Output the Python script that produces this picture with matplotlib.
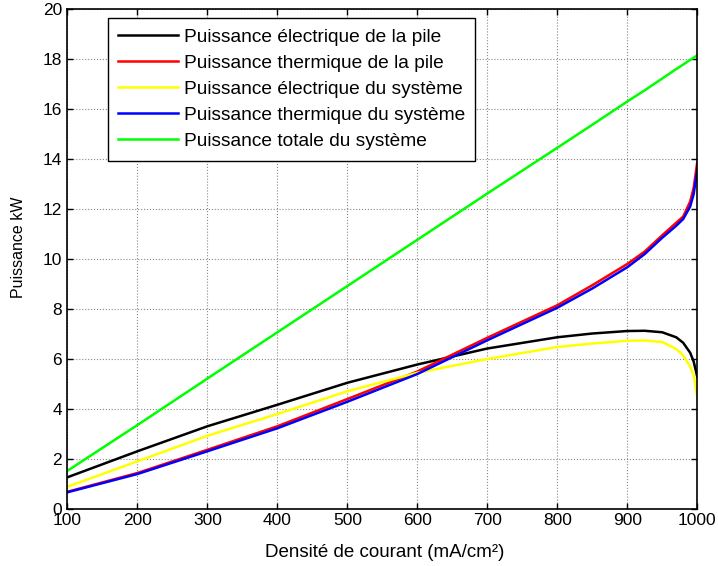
import matplotlib
matplotlib.use('Agg')
import matplotlib.pyplot as plt

plt.rcParams['font.family'] = ['Liberation Sans', 'DejaVu Sans']

# Current density (mA/cm²) at which each power curve is sampled
densite = [100, 200, 300, 400, 500, 600, 700, 800, 850, 900, 925, 950, 970, 980, 990, 995, 1000]

# Power values in kW
p_elec_pile = [1.27, 2.31, 3.31, 4.17, 5.05, 5.78, 6.42, 6.87, 7.02, 7.12, 7.13, 7.07, 6.87, 6.65, 6.25, 5.9, 5.3]
p_therm_pile = [0.69, 1.44, 2.37, 3.31, 4.4, 5.5, 6.85, 8.15, 8.95, 9.8, 10.3, 10.95, 11.45, 11.7, 12.3, 12.85, 13.85]
p_elec_sys = [0.89, 1.91, 2.93, 3.8, 4.71, 5.45, 6.0, 6.48, 6.62, 6.73, 6.74, 6.68, 6.4, 6.15, 5.7, 5.35, 4.5]
p_therm_sys = [0.67, 1.4, 2.31, 3.23, 4.29, 5.4, 6.75, 8.05, 8.82, 9.67, 10.2, 10.85, 11.33, 11.6, 12.1, 12.6, 13.55]
p_totale = [1.53, 3.36, 5.22, 7.07, 8.92, 10.77, 12.62, 14.45, 15.37, 16.3, 16.75, 17.22, 17.6, 17.78, 17.97, 18.05, 18.15]

courbes = [
    (p_elec_pile, 'black', 'Puissance électrique de la pile'),
    (p_therm_pile, 'red', 'Puissance thermique de la pile'),
    (p_elec_sys, 'yellow', 'Puissance électrique du système'),
    (p_therm_sys, 'blue', 'Puissance thermique du système'),
    (p_totale, '#00ff00', 'Puissance totale du système'),
]

fig = plt.figure(figsize=(7.18, 5.66), dpi=100)
ax = fig.add_axes([0.094, 0.1007, 0.877, 0.8833])

for valeurs, couleur, nom in courbes:
    ax.plot(densite, valeurs, color=couleur, linewidth=1.8, label=nom)

ax.set_xlim(100, 1000)
ax.set_ylim(0, 20)
ax.set_xticks(range(100, 1001, 100))
ax.set_yticks(range(0, 21, 2))
ax.tick_params(direction='in', top=True, right=True, labelsize=12.5, length=4, width=1)
ax.tick_params(axis='x', pad=3)
ax.tick_params(axis='y', pad=4)
ax.grid(True, color='#888888', linestyle=':', linewidth=0.8)
for s in ax.spines.values():
    s.set_linewidth(1.2)

ax.set_xlabel('Densité de courant (mA/cm²)', fontsize=13.5)
ax.set_ylabel('Puissance kW', fontsize=11.5)
ax.xaxis.set_label_coords(0.504, -0.07)
ax.yaxis.set_label_coords(-0.066, 0.524)

leg = ax.legend(loc='upper left', bbox_to_anchor=(0.064, 0.982), borderaxespad=0,
                fontsize=13.8, fancybox=False, framealpha=1, edgecolor='black',
                handlelength=3.1, handletextpad=0.3, labelspacing=0.45, borderpad=0.55)
leg.get_frame().set_linewidth(1.0)

fig.savefig('out.png', dpi=100)
